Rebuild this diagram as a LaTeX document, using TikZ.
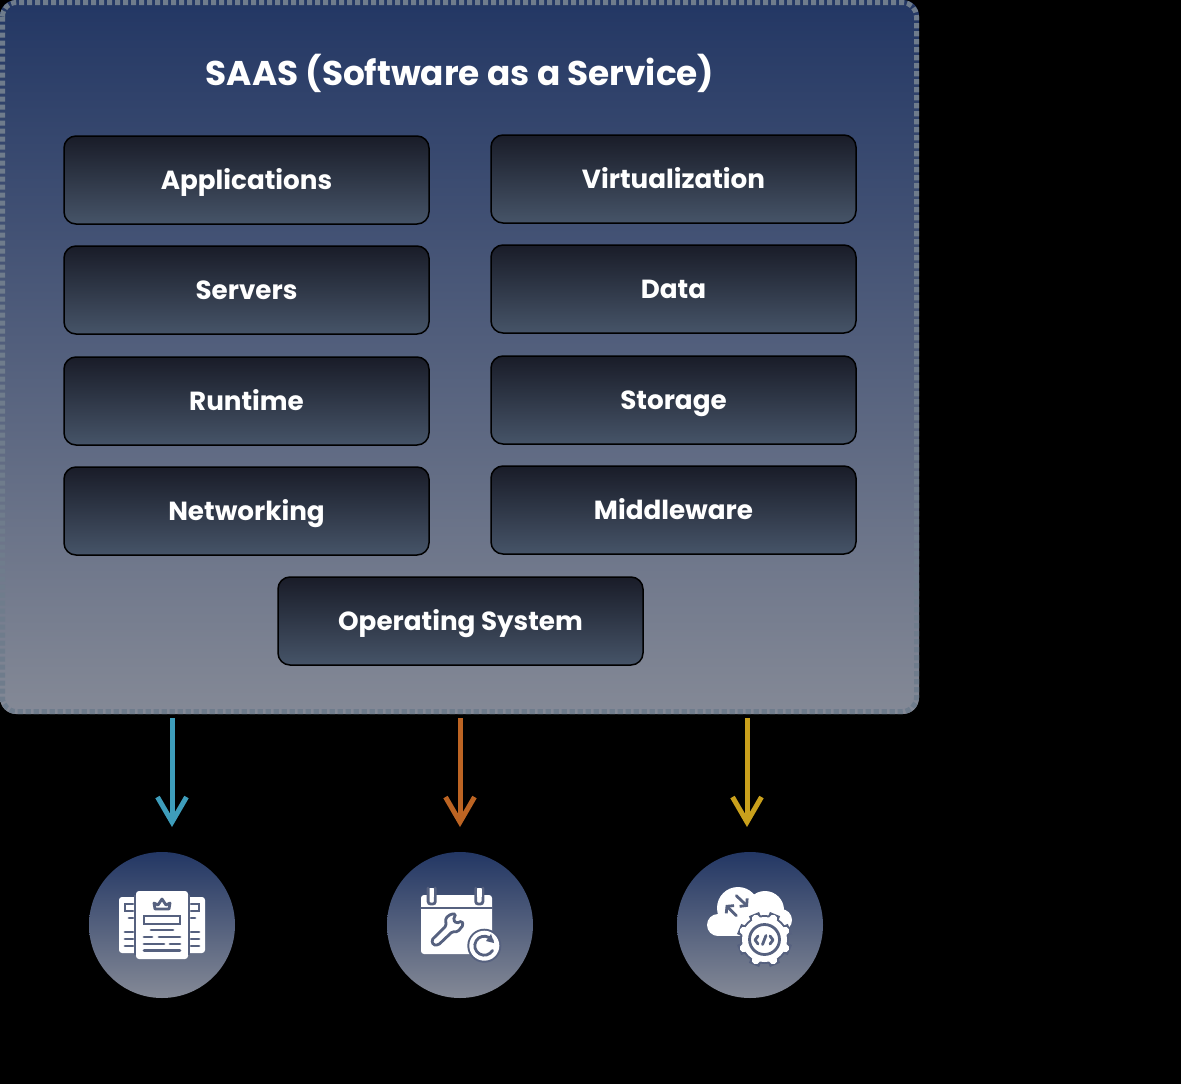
\documentclass[tikz,border=0pt]{standalone}
\usepackage{fontspec}
\setmainfont{Poppins}[BoldFont={Poppins Bold}]
\usetikzlibrary{arrows.meta}
\definecolor{paneltop}{HTML}{233764}
\definecolor{panelbot}{HTML}{848996}
\definecolor{panelrim}{HTML}{6F7C8C}
\definecolor{boxtop}{HTML}{191C28}
\definecolor{boxbot}{HTML}{465468}
\definecolor{icondark}{HTML}{56617F}
\definecolor{arrowblue}{HTML}{3E9DBB}
\definecolor{arroworange}{HTML}{BC6423}
\definecolor{arrowyellow}{HTML}{C9A01C}
\tikzset{
    boxnode/.style={rectangle, rounded corners=12pt, draw=black, line width=1.5pt, top color=boxtop, bottom color=boxbot, minimum width=365pt, minimum height=88pt, text=white, text height=22pt, text depth=4pt, font=\fontsize{26.2}{30}\selectfont\bfseries},
    circnode/.style={circle, minimum size=146pt, inner sep=0pt, top color=paneltop, bottom color=panelbot},
    flowarrow/.style={line width=5pt, -{Straight Barb[length=25pt,width=29pt,line width=5pt]}},
    iconline/.style={draw=icondark, line width=2.8pt, line cap=round},
    iconarrow/.style={iconline, -{Straight Barb[length=4.5pt,width=11pt,line width=2.8pt]}}
}
\begin{document}
\begin{tikzpicture}[x=1pt, y=-1pt]
    \useasboundingbox (0,0) rectangle (1181,1084);
    \fill[black] (0,0) rectangle (1181,1084);

    % panel
    \node[rectangle, rounded corners=16pt, minimum width=919pt, minimum height=714pt, inner sep=0pt, top color=paneltop, bottom color=panelbot] (panel) at (459.5,357) {};
    \draw[panelrim, line width=5pt, dash pattern=on 5.2pt off 2.8pt, rounded corners=14pt] (2.5,2.5) rectangle (916.5,711.5);
    \node[text=white, font=\fontsize{34.3}{38}\selectfont\bfseries] (title) at (460,73) {SAAS (Software as a Service)};

    % left column
    \node[boxnode] (apps) at (246.5,180) {Applications};
    \node[boxnode] (servers) at (246.5,290) {Servers};
    \node[boxnode] (runtime) at (246.5,401) {Runtime};
    \node[boxnode] (network) at (246.5,511) {Networking};

    % right column
    \node[boxnode] (virt) at (673.5,179) {Virtualization};
    \node[boxnode] (data) at (673.5,289) {Data};
    \node[boxnode] (storage) at (673.5,400) {Storage};
    \node[boxnode] (middle) at (673.5,510) {Middleware};

    \node[boxnode] (os) at (460.5,621) {Operating System};

    \node[circnode] (c1) at (162,925) {};
    \node[circnode] (c2) at (460,925) {};
    \node[circnode] (c3) at (750,925) {};

    \coordinate (a1s) at (172,718);
    \coordinate (a1e) at (172,827);
    \coordinate (a2s) at (460,718);
    \coordinate (a2e) at (460,827);
    \coordinate (a3s) at (747,718);
    \coordinate (a3e) at (747,827);
    \draw[flowarrow, arrowblue] (a1s) -- (a1e);
    \draw[flowarrow, arroworange] (a2s) -- (a2e);
    \draw[flowarrow, arrowyellow] (a3s) -- (a3e);

    % icon 1
    \fill[white, rounded corners=3pt] (119,897) rectangle (205,953);
    \fill[white, rounded corners=3pt] (136,891) rectangle (188,959);
    \draw[icondark, line width=1.5pt] (135.2,895) -- (135.2,955) (188.8,895) -- (188.8,955);
    \draw[iconline, line join=round] (154,903) -- (158,905) -- (162,899) -- (166,905) -- (170,903) -- (169,909) -- (155,909) -- cycle;
    \draw[iconline] (144,916) rectangle (180,924);
    \draw[iconline] (151,930) -- (173,930) (144,937) -- (152,937) (159,937) -- (180,937) (144,944) -- (164,944) (170,944) -- (180,944) (144,950.5) -- (180,950.5);
    \foreach \y in {932,939,946} {
        \draw[iconline] (125,\y) -- (133,\y);
        \draw[iconline] (191,\y) -- (199,\y);
    }
    \draw[iconline] (133,904) -- (125,904) -- (125,911) -- (133,911);
    \draw[iconline] (191,904) -- (199,904) -- (199,911) -- (191,911);
    \draw[iconline] (129,918) -- (133,918) (191,918) -- (195,918);

    % icon 2
    \fill[white, rounded corners=3pt] (421,895) rectangle (492,954);
    \draw[iconline] (421,908) -- (492,908);
    \foreach \x in {431.7,479.3} {
        \draw[iconline, fill=white, rounded corners=2.5pt] (\x-3.6,888) -- (\x-3.6,904) -- (\x+3.6,904) -- (\x+3.6,888);
        \fill[white] (\x-2.2,888.5) rectangle (\x+2.2,897);
    }
    \draw[iconline, fill=white, rounded corners=1.5pt] (445.7,918) -- (451,914) -- (455.7,914) -- (453.3,920) -- (456.7,923.3) -- (461.7,921) -- (463.3,925) -- (457.7,931.7) -- (452.3,931.7) -- (438.3,945) -- (433.3,945) -- (431.7,940) -- (446,926) -- cycle;
    \fill[icondark] (484.3,945.7) circle[radius=17];
    \fill[white] (484.3,945.7) circle[radius=15];
    \draw[iconline] (484.3,945.7) ++(30:9.5) arc[start angle=30, end angle=330, radius=9.5];
    \fill[icondark] (491,934) -- (494,943) -- (486,941) -- cycle;

    % icon 3
    \fill[white] (718,925) circle[radius=11] (738,908) circle[radius=21] (765,910) circle[radius=19] (781,920) circle[radius=11];
    \fill[white] (718,915) rectangle (781,936);
    \draw[iconarrow] (736.3,895.7) -- (748,906.7);
    \draw[iconarrow] (736.3,915.7) -- (725.7,905);
    \foreach \a in {0,45,...,315} {
        \draw[icondark, line width=11pt] (764.5,939.5) ++(\a+22.5:20) -- ++(\a+22.5:7.5);
    }
    \fill[icondark] (764.5,939.5) circle[radius=24.5];
    \foreach \a in {0,45,...,315} {
        \draw[white, line width=8pt, line cap=round] (764.5,939.5) ++(\a+22.5:19) -- ++(\a+22.5:3.5);
    }
    \fill[white] (764.5,939.5) circle[radius=22.5];
    \draw[iconline] (764.5,939.5) circle[radius=15];
    \draw[iconline, line join=round] (758,936) -- (755,940) -- (758,944) (770,936) -- (773,940) -- (770,944) (762.5,944.5) -- (766,935.5);
\end{tikzpicture}
\end{document}
